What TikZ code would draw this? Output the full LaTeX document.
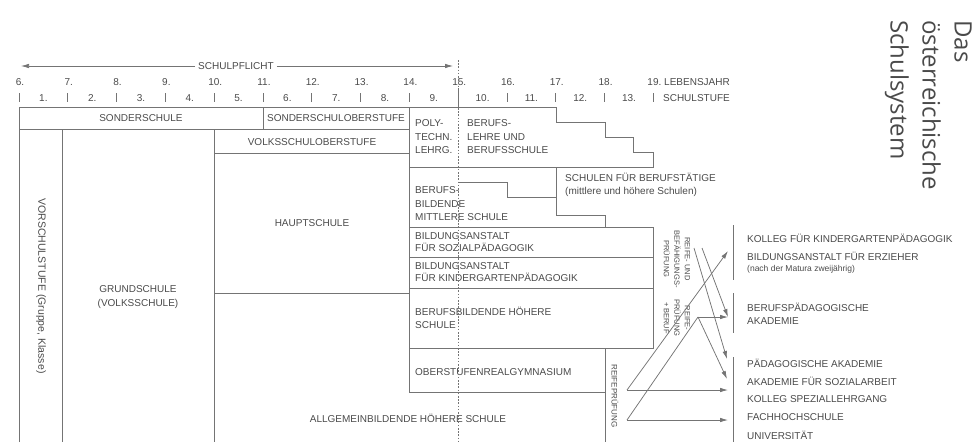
\documentclass[tikz,border=0pt]{standalone}
\usepackage{fontspec}
\setmainfont{Liberation Sans}
\newfontfamily\titlefont{Open Sans}
\usetikzlibrary{arrows.meta}
\definecolor{txt}{HTML}{4A4A4A}
\definecolor{ln}{HTML}{747474}
\tikzset{
  lab/.style={font=\fontsize{10}{13.5}\selectfont, text=txt, inner sep=0pt},
  labl/.style={lab, anchor=west, align=left},
  labtight/.style={font=\fontsize{10}{12}\selectfont, text=txt, inner sep=0pt, anchor=west, align=left},
  tiny/.style={font=\fontsize{7.5}{10.5}\selectfont, text=txt, inner sep=0pt, align=center},
  frame/.style={draw=ln, line width=0.8pt},
  arr/.style={draw=ln, line width=0.75pt, -{Latex[length=8pt,width=4.5pt]}},
  conn/.style={draw=ln, line width=0.75pt},
  dotline/.style={draw=ln, line width=0.9pt, dash pattern=on 1.6pt off 1.6pt},
}
\begin{document}
\begin{tikzpicture}[x=1pt,y=-1pt]
\useasboundingbox (0,0) rectangle (976,442);

% ---- title
\node[font=\titlefont\fontsize{24}{32}\selectfont, text=txt, rotate=-90,
      anchor=north west, align=left, inner sep=0pt] (title) at (972,20)
      {Das\\österreichische\\Schulsystem};

% ---- Schulpflicht arrow
\coordinate (spL) at (21,66);
\coordinate (spR) at (453,66);
\node[lab, fill=white, inner xsep=3pt] (sp) at (236,66) {SCHULPFLICHT};
\draw[arr] (sp.west) -- (spL);
\draw[arr] (sp.east) -- (spR);

% ---- ages and school grades
\foreach \k [count=\i from 0] in {6,...,19} {
  \node[lab] (age\k) at ({19+\i*48.8+1},82) {\k.};
}
\foreach \s in {1,...,13} {
  \node[lab] (st\s) at ({19+(\s-0.5)*48.8},98) {\s.};
}
\foreach \i in {0,...,13} {
  \draw[draw=ln, line width=0.7pt] ({19+\i*48.8},93) -- ++(0,9);
}
\draw[frame] (458.2,88) -- (458.2,107);
\node[lab, anchor=west] (lj) at (664,82) {LEBENSJAHR};
\node[lab, anchor=east] (ss) at (lj.east |- 0,98) {SCHULSTUFE};

% ---- frames
\draw[frame] (19,442) -- (19,107) -- (556,107) -- (556,122) -- (605,122) -- (605,137)
  -- (633,137) -- (633,152) -- (653,152) -- (653,167) -- (409,167);
\draw[frame] (19,129) -- (409,129);
\draw[frame] (263,107) -- (263,129);
\draw[frame] (62,129) -- (62,442);
\draw[frame] (214,129) -- (214,442);
\draw[frame] (214,153) -- (409,153);
\draw[frame] (214,293) -- (409,293);
\draw[frame] (409,107) -- (409,392) -- (605,392);
\draw[frame] (605,348) -- (605,442);
\draw[frame] (409,227) -- (653,227) -- (653,348) -- (409,348);
\draw[frame] (409,257) -- (653,257);
\draw[frame] (409,288) -- (653,288);
\draw[frame] (458,182) -- (507,182) -- (507,197) -- (556,197);
\draw[frame] (556,167) -- (556,215) -- (605,215) -- (605,227);
% brackets right
\draw[frame] (733,225) -- (733,280);
\draw[frame] (733,293) -- (733,333);
\draw[frame] (733,357) -- (733,442);

% ---- box texts
\node[lab] (sonder) at (141,118) {SONDERSCHULE};
\node[lab] (sonderob) at (336,118) {SONDERSCHULOBERSTUFE};
\node[lab] (volksob) at (312,142) {VOLKSSCHULOBERSTUFE};
\node[lab] (haupt) at (312,223) {HAUPTSCHULE};
\node[lab, align=center] (grund) at (138,297) {GRUNDSCHULE\\(VOLKSSCHULE)};
\node[lab, rotate=-90, font=\fontsize{10.5}{13}\selectfont] (vor) at (41,286) {VORSCHULSTUFE (Gruppe, Klasse)};
\node[lab] (ahs) at (408,418) {ALLGEMEINBILDENDE HÖHERE SCHULE};
\node[labl] (poly) at (415,137) {POLY-\\TECHN.\\LEHRG.};
\node[labl] (lehre) at (467,137) {BERUFS-\\LEHRE UND\\BERUFSSCHULE};
\node[labl] (bms) at (415,204) {BERUFS-\\BILDENDE\\MITTLERE SCHULE};
\node[labl] (sfb) at (565,185) {SCHULEN FÜR BERUFSTÄTIGE\\(mittlere und höhere Schulen)};
\node[labtight] (basp) at (415,242) {BILDUNGSANSTALT\\FÜR SOZIALPÄDAGOGIK};
\node[labtight] (bakip) at (415,272) {BILDUNGSANSTALT\\FÜR KINDERGARTENPÄDAGOGIK};
\node[labl] (bhs) at (415,318) {BERUFSBILDENDE HÖHERE\\SCHULE};
\node[labl] (org) at (415,372) {OBERSTUFENREALGYMNASIUM};
\node[tiny, rotate=-90, font=\fontsize{8}{10}\selectfont] (rp) at (615,396) {REIFEPRÜFUNG};
\node[tiny, rotate=-90] (rbp) at (677,259) {REIFE- UND\\BEFÄHIGUNGS-\\PRÜFUNG};
\node[tiny, rotate=-90] (rpb) at (677,318) {REIFE-\\PRÜFUNG\\+ BERUF};

% ---- right column
\node[labl] (kkp) at (747,238) {KOLLEG FÜR KINDERGARTENPÄDAGOGIK};
\node[labl] (bae) at (747,256) {BILDUNGSANSTALT FÜR ERZIEHER};
\node[lab, anchor=west, font=\fontsize{8.5}{10}\selectfont] (matura) at (747,269) {(nach der Matura zweijährig)};
\node[labl] (bpa) at (747,314) {BERUFSPÄDAGOGISCHE\\AKADEMIE};
\node[labl] (pa) at (747,363) {PÄDAGOGISCHE AKADEMIE};
\node[labl] (afs) at (747,381) {AKADEMIE FÜR SOZIALARBEIT};
\node[labl] (ksl) at (747,399) {KOLLEG SPEZIALLEHRGANG};
\node[labl] (fh) at (747,417) {FACHHOCHSCHULE};
\node[labl] (uni) at (747,435) {UNIVERSITÄT};

% ---- arrows
\coordinate (p1) at (694,248);
\coordinate (p1b) at (702,248);
\coordinate (p2) at (698,317);
\coordinate (a1) at (627,390);
\coordinate (a2) at (627,420);
\coordinate (t1) at (728,251);
\coordinate (t2) at (728,317);
\coordinate (t3) at (727,359);
\coordinate (t4) at (727,379);
\coordinate (t5) at (728,390);
\coordinate (t6) at (728,420);
\draw[arr] (a1) -- (t1);
\draw[arr] (a1) -- (t5);
\draw[conn] (a2) -- (p2);
\draw[arr] (a2) -- (t6);
\draw[arr] (p2) -- (t2);
\draw[arr] (p2) -- (t4);
\draw[arr] (p1) -- (t3);
\draw[arr] (p1b) -- (t2);

% ---- dotted age-15 line
\coordinate (d1) at (458.2,60);
\coordinate (d2) at (458.2,442);
\draw[dotline] (d1) -- (d2);
\end{tikzpicture}
\end{document}
